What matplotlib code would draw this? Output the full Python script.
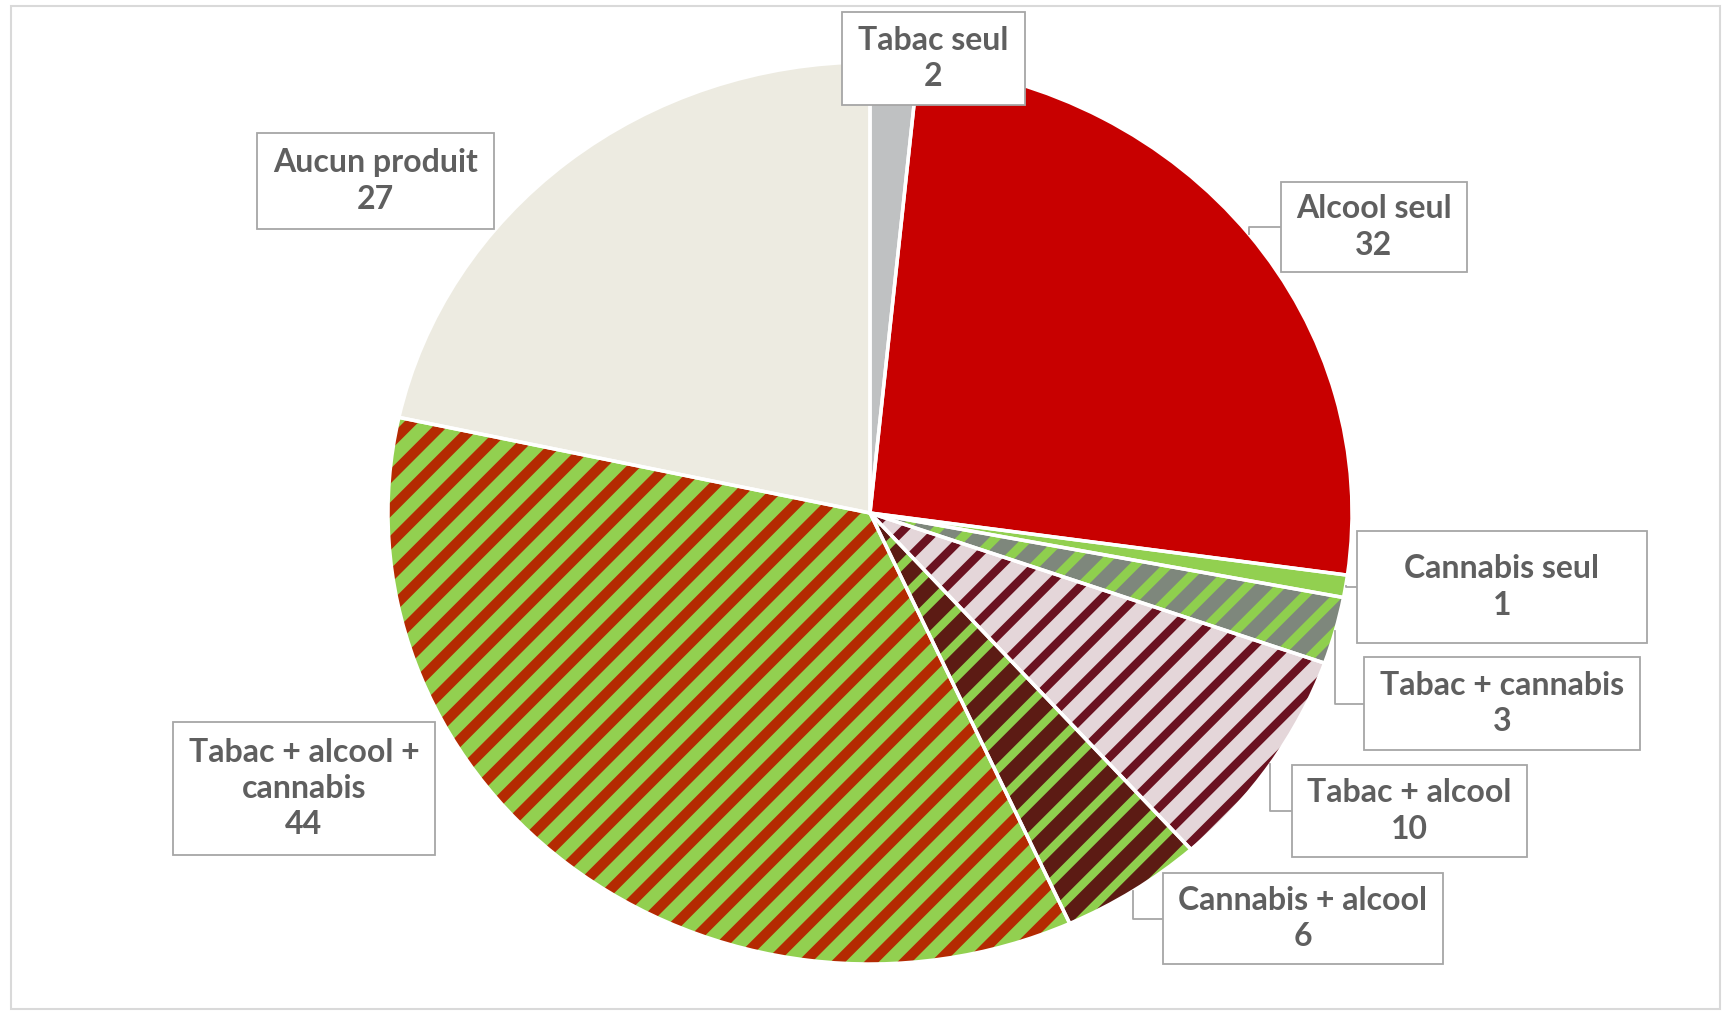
import numpy as np
import matplotlib
matplotlib.use("Agg")
import matplotlib.pyplot as plt
from matplotlib.patches import Rectangle

# dane
labels = ["Tabac seul", "Alcool seul", "Cannabis seul", "Tabac + cannabis",
          "Tabac + alcool", "Cannabis + alcool", "Tabac + alcool +\ncannabis",
          "Aucun produit"]
values = [2, 32, 1, 3, 10, 6, 44, 27]

# kolory: tlo wycinka i kolor paskow
face_colors = ["#BFC1C2", "#C80000", "#92D050", "#7E877C",
               "#E4D6D9", "#5C1B14", "#92D050", "#EDEBE1"]
hatch_colors = ["#BFC1C2", "#C80000", "#92D050", "#8FCF4E",
                "#6A1220", "#8FCF4E", "#B42A02", "#EDEBE1"]
hatches = ["", "", "", "/", "/", "/", "/", ""]
hatch_widths = [1, 1, 1, 6.5, 6.0, 6.0, 7.5, 1]

# pozycje ramek etykiet w pikselach (lewo, gora, prawo, dol)
boxes = [(842, 12, 1025, 105), (1281, 182, 1467, 272), (1357, 531, 1647, 643),
         (1364, 657, 1640, 750), (1292, 765, 1527, 857), (1163, 873, 1443, 964),
         (173, 722, 435, 855), (257, 133, 494, 229)]
leaders = [False, True, True, True, True, True, False, False]

W, H = 1729, 1015
CX, CY, RX, RY = 870, 513, 482, 451

plt.rcParams["hatch.linewidth"] = 7.0

fig = plt.figure(figsize=(W / 100, H / 100), dpi=100)
ax = fig.add_axes([0, 0, 1, 1])


def px(x, y):
    return (x - CX) / RX, (CY - y) / RY


wedges, _ = ax.pie(values, startangle=90, counterclock=False,
                   colors=face_colors, wedgeprops=dict(linewidth=0))
for w, hc, h, hw in zip(wedges, hatch_colors, hatches, hatch_widths):
    w.set_edgecolor(hc)
    w.set_hatch(h)
    w.set_linewidth(0)
    if hasattr(w, "set_hatch_linewidth"):
        w.set_hatch_linewidth(hw)

# biale krawedzie miedzy wycinkami
ax.pie(values, startangle=90, counterclock=False,
       wedgeprops=dict(fill=False, edgecolor="white", linewidth=2.5))

ax.set_aspect("auto")
ax.set_xlim((0 - CX) / RX, (W - CX) / RX)
ax.set_ylim((CY - H) / RY, CY / RY)
ax.axis("off")

for w, lab, v, box, lead in zip(wedges, labels, values, boxes, leaders):
    l, t, r, b = box
    x0, y0 = px(l, b)
    x1, y1 = px(r, t)
    ax.add_patch(Rectangle((x0, y0), x1 - x0, y1 - y0, facecolor="white",
                           edgecolor="#A6A6A6", linewidth=1.3, zorder=5))
    ax.text((x0 + x1) / 2, (y0 + y1) / 2, f"{lab}\n{v}", ha="center",
            va="center", fontsize=23, family="Lato", fontweight="bold",
            color="#5f5f5f", linespacing=1.3, zorder=6)
    if lead:
        ang = np.deg2rad((w.theta1 + w.theta2) / 2)
        ax_, ay_ = np.cos(ang), np.sin(ang)
        ym = (y0 + y1) / 2
        ax.plot([ax_, ax_, x0], [ay_, ym, ym], color="#A6A6A6",
                linewidth=1.3, zorder=4)

fig.add_artist(Rectangle((11 / W, 1 - 1009 / H), (1720 - 11) / W,
                         (1009 - 6) / H, transform=fig.transFigure,
                         fill=False, edgecolor="#D9D9D9", linewidth=1.5))

fig.savefig("out.png", dpi=100)
